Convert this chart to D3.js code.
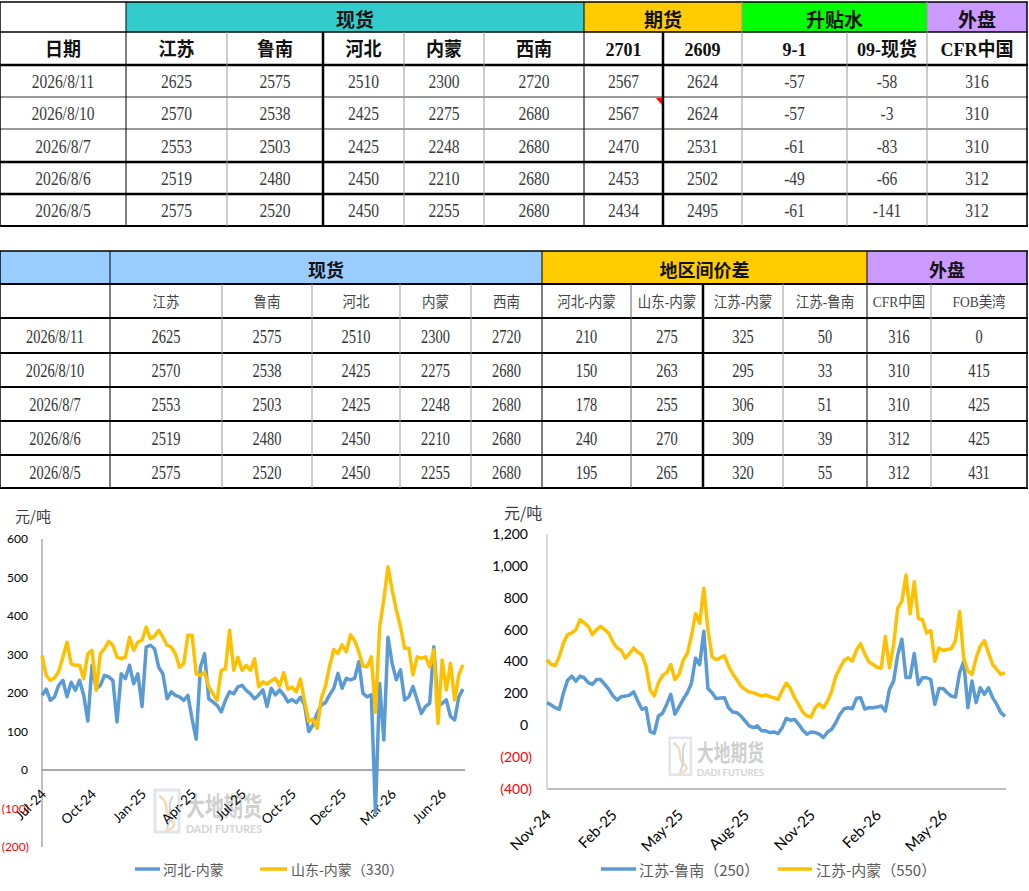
<!DOCTYPE html>
<html><head><meta charset="utf-8">
<script src="https://cdn.jsdelivr.net/npm/d3@7"></script>
<style>html,body{margin:0;padding:0;background:#fff;} svg{display:block;}</style>
</head><body>
<svg id="c" width="1029" height="891"></svg>
<script>
// ---------------- table data ----------------
const dates = ["2026/8/11","2026/8/10","2026/8/7","2026/8/6","2026/8/5"];
const spotJiangsu = [2625,2570,2553,2519,2575];
const spotLunan = [2575,2538,2503,2480,2520];
const spotHebei = [2510,2425,2425,2450,2450];
const spotNeimeng = [2300,2275,2248,2210,2255];
const spotXinan = [2720,2680,2680,2680,2680];
const fut2701 = [2567,2567,2470,2453,2434];
const fut2609 = [2624,2624,2531,2502,2495];
const basis91 = [-57,-57,-61,-49,-61];
const basis09Spot = [-58,-3,-83,-66,-141];
const cfrChina = [316,310,310,312,312];
const sprHebeiNeimeng = [210,150,178,240,195];
const sprShandongNeimeng = [275,263,255,270,265];
const sprJiangsuNeimeng = [325,295,306,309,320];
const sprJiangsuLunan = [50,33,51,39,55];
const fobUSGulf = [0,415,425,425,431];

const t1Groups = ["", "现货", "期货", "升贴水", "外盘"];
const t1Heads = ["日期","江苏","鲁南","河北","内蒙","西南","2701","2609","9-1","09-现货","CFR中国"];
const t2Groups = ["", "现货", "地区间价差", "外盘"];
const t2Heads = ["","江苏","鲁南","河北","内蒙","西南","河北-内蒙","山东-内蒙","江苏-内蒙","江苏-鲁南","CFR中国","FOB美湾"];

// ---------------- chart data ----------------
const leftSeriesNames = ["河北-内蒙","山东-内蒙（330）"];
const leftXLabels = ["Jul-24","Oct-24","Jan-25","Apr-25","Jul-25","Oct-25","Dec-25","Mar-26","Jun-26"];
const leftYTicks = [-200,-100,0,100,200,300,400,500,600];
const hebeiNeimeng = [194,210,181,190,220,233,190,228,207,233,
194,127,272,211,220,246,242,233,125,250,
237,272,224,250,165,319,324,315,267,250,
185,203,194,190,181,194,133,80,267,302,
185,177,168,151,181,203,198,216,220,207,
198,185,195,208,165,212,195,208,195,177,
183,175,189,169,100,117,147,169,175,195,
212,251,212,238,234,238,281,199,190,195,
-110,225,78,345,277,234,260,182,190,217,
182,147,165,173,320,165,173,182,139,130,
190,210];
const shandongNeimeng = [298,246,233,239,256,293,332,276,272,272,
237,302,311,207,302,315,334,324,293,289,
293,345,311,332,337,371,341,348,363,345,
324,319,302,267,276,350,350,250,246,254,
216,198,181,259,263,363,259,293,259,272,
259,289,216,229,223,232,238,218,253,210,
215,203,236,178,126,132,108,186,218,270,
313,303,325,307,351,336,307,270,268,294,
150,372,442,528,468,416,372,316,316,247,
294,290,294,268,312,121,286,208,277,182,
247,273];

const rightSeriesNames = ["江苏-鲁南（250）","江苏-内蒙（550）"];
const rightXLabels = ["Nov-24","Feb-25","May-25","Aug-25","Nov-25","Feb-26","May-26"];
const rightYTicks = [-400,-200,0,200,400,600,800,1000,1200];
const jiangsuLunan = [142,127,110,100,204,283,308,277,308,298,
267,256,287,287,256,225,183,158,179,183,
189,210,152,100,110,-40,-50,58,75,131,
194,69,115,162,204,262,420,380,590,230,
204,167,171,173,110,83,79,58,27,-4,
-15,-4,-35,-35,-46,-42,-52,-15,44,31,
37,6,-31,-56,-42,-46,-56,-77,-42,-25,
17,69,104,110,104,169,173,102,110,110,
114,121,89,225,277,440,540,300,300,450,
256,298,298,287,131,231,231,204,183,177,
330,400,110,277,142,235,194,235,173,131,
79,56];
const jiangsuNeimeng = [412,381,375,433,517,569,579,600,662,642,
621,569,600,621,600,575,521,485,469,421,
450,485,458,442,371,221,183,267,312,329,
381,287,319,408,450,560,700,640,860,600,
429,412,423,437,371,323,287,246,225,208,
204,194,183,190,179,173,162,218,264,231,
173,129,83,58,52,110,135,110,152,214,
308,360,406,423,402,471,512,448,398,381,
364,358,558,360,506,735,777,943,700,900,
669,662,579,594,402,485,469,475,481,531,
714,420,339,319,423,496,531,454,381,350,
319,330];

// ---------------- drawing ----------------
const svg = d3.select("#c");
const CJK = "'Noto Sans CJK SC', sans-serif";
const SERIF = "'Liberation Serif', 'Noto Sans CJK SC', serif";
const BLUE = "#5B9BD5", GOLD = "#FFC000";

function cellText(g, cx, cy, txt, o) {
  g.append("text")
    .attr("transform", `translate(${cx},${cy}) scale(${o.sx||1},1)`)
    .attr("text-anchor","middle").attr("dominant-baseline","central")
    .attr("font-family", o.ff).attr("font-size", o.fs)
    .attr("font-weight", o.fw||"normal").attr("fill", o.fill||"#000")
    .text(txt);
}
function hline(g, x1, x2, y, w, c) {
  g.append("line").attr("x1",x1).attr("x2",x2).attr("y1",y).attr("y2",y)
    .attr("stroke",c).attr("stroke-width",w);
}
function vline(g, x, y1, y2, w, c) {
  g.append("line").attr("x1",x).attr("x2",x).attr("y1",y1).attr("y2",y2)
    .attr("stroke",c).attr("stroke-width",w);
}

// ===== Table 1 =====
(function(){
  const g = svg.append("g");
  const cols = [0,126,227,323,404,484,584,663,742,847,927,1027];
  const rows = [2,32,65,97,129,162,194,226];
  const spans = [[0,1],[1,6],[6,8],[8,10],[10,11]];
  const fills = ["#FFFFFF","#33CCCC","#FFCC00","#00FF00","#CC99FF"];
  spans.forEach((s,k)=>{
    g.append("rect").attr("x",cols[s[0]]).attr("y",rows[0]).attr("width",cols[s[1]]-cols[s[0]])
      .attr("height",rows[1]-rows[0]).attr("fill",fills[k]);
    cellText(g,(cols[s[0]]+cols[s[1]])/2,(rows[0]+rows[1])/2+1,t1Groups[k],{ff:CJK,fs:19,fw:"bold",fill:"#111"});
  });
  t1Heads.forEach((h,k)=>{
    cellText(g,(cols[k]+cols[k+1])/2,(rows[1]+rows[2])/2+1,h,{ff:SERIF,fs:19,fw:"bold",fill:"#111",sx:0.95});
  });
  const body = dates.map((d,r)=>[d,spotJiangsu[r],spotLunan[r],spotHebei[r],spotNeimeng[r],spotXinan[r],
    fut2701[r],fut2609[r],basis91[r],basis09Spot[r],cfrChina[r]]);
  body.forEach((row,r)=>{
    row.forEach((v,k)=>{
      cellText(g,(cols[k]+cols[k+1])/2,(rows[r+2]+rows[r+3])/2+1,String(v),{ff:SERIF,fs:19,fill:"#3a3a3a",sx:0.82});
    });
  });
  const hw = [[1.5,"#000"],[1.5,"#000"],[2.5,"#000"],[1,"#333"],[1,"#333"],[2.5,"#000"],[2.5,"#000"],[2,"#000"]];
  rows.forEach((y,i)=>hline(g,0,1028,y,hw[i][0],hw[i][1]));
  const vw = [[1.5,"#000"],[1,"#000"],[1,"#999"],[2.5,"#000"],[1,"#999"],[1,"#999"],[1,"#000"],[2.5,"#000"],[1,"#999"],[1,"#999"],[1,"#999"],[1.5,"#000"]];
  const groupEdges = [0,1,6,8,10,11];
  cols.forEach((x,i)=>{
    const top = groupEdges.includes(i) ? rows[0] : rows[1];
    vline(g,x,top,rows[7],vw[i][0],vw[i][1]);
  });
  g.append("path").attr("d","M656,98 L662,98 L662,105 Z").attr("fill","#FF0000");
})();

// ===== Table 2 =====
(function(){
  const g = svg.append("g");
  const cols = [0,110,222,312,400,471,542,631,703,783,867,931,1027];
  const rows = [251,284,318,353,387,421,455,488];
  const spans = [[0,1],[1,6],[6,10],[10,12]];
  const fills = ["#99CCFF","#99CCFF","#FFCC00","#CC99FF"];
  spans.forEach((s,k)=>{
    g.append("rect").attr("x",cols[s[0]]).attr("y",rows[0]).attr("width",cols[s[1]]-cols[s[0]])
      .attr("height",rows[1]-rows[0]).attr("fill",fills[k]);
    cellText(g,(cols[s[0]]+cols[s[1]])/2,(rows[0]+rows[1])/2+1,t2Groups[k],{ff:CJK,fs:18,fw:"bold",fill:"#111"});
  });
  t2Heads.forEach((h,k)=>{
    cellText(g,(cols[k]+cols[k+1])/2,(rows[1]+rows[2])/2+1,h,{ff:SERIF,fs:15,fill:"#444",sx:0.9});
  });
  const body = dates.map((d,r)=>[d,spotJiangsu[r],spotLunan[r],spotHebei[r],spotNeimeng[r],spotXinan[r],
    sprHebeiNeimeng[r],sprShandongNeimeng[r],sprJiangsuNeimeng[r],sprJiangsuLunan[r],cfrChina[r],fobUSGulf[r]]);
  body.forEach((row,r)=>{
    row.forEach((v,k)=>{
      cellText(g,(cols[k]+cols[k+1])/2,(rows[r+2]+rows[r+3])/2+1,String(v),{ff:SERIF,fs:19,fill:"#333",sx:0.76});
    });
  });
  rows.forEach((y,i)=>hline(g,0,1028,y,i===0?1.5:2,"#000"));
  const vw = [[1.5,"#000"],[1,"#000"],[1,"#999"],[1,"#999"],[1,"#999"],[1,"#999"],[1,"#000"],[1,"#666"],[2.5,"#000"],[1,"#999"],[1,"#000"],[1,"#999"],[1.5,"#000"]];
  const groupEdges = [0,1,6,10,12];
  cols.forEach((x,i)=>{
    const top = groupEdges.includes(i) ? rows[0] : rows[1];
    vline(g,x,top,rows[7],vw[i][0],vw[i][1]);
  });
})();

// ===== watermark =====
function watermark(x, y, s) {
  const g = svg.append("g").attr("transform",`translate(${x},${y}) scale(${s})`).attr("opacity",0.55);
  g.append("path").attr("d","M2,2 L26,2 L26,44 L2,44 Z").attr("fill","none").attr("stroke","#c9d3df").attr("stroke-width",3);
  g.append("path").attr("d","M6,8 C18,14 10,26 18,32 C24,36 20,42 12,42").attr("fill","none").attr("stroke","#e2c68f").attr("stroke-width",3);
  g.append("path").attr("d","M20,8 C12,18 22,26 14,40").attr("fill","none").attr("stroke","#9fb3c8").attr("stroke-width",2);
  g.append("text").attr("x",33).attr("y",28).attr("font-family",CJK).attr("font-weight","bold")
    .attr("font-size",26).attr("fill","#a8a8a8").attr("textLength",76).attr("lengthAdjust","spacingAndGlyphs").text("大地期货");
  g.append("text").attr("x",33).attr("y",45).attr("font-family","Lato, sans-serif").attr("font-weight","bold")
    .attr("font-size",11.5).attr("fill","#b0b0b0").attr("textLength",76).attr("lengthAdjust","spacingAndGlyphs").text("DADI FUTURES");
}
watermark(153, 788, 1.0);
watermark(668, 736, 0.88);

// ===== Left chart =====
(function(){
  const g = svg.append("g");
  const xL = d3.scalePoint().domain(d3.range(hebeiNeimeng.length)).range([42, 463]);
  const yL = d3.scaleLinear().domain([-200, 600]).range([847, 539]);
  vline(g, 42, yL(600), yL(-200), 2, "#BFBFBF");
  hline(g, 42, 465, yL(0), 1.5, "#8C8C8C");
  const ax = g.append("g").attr("transform","translate(42,0)")
    .call(d3.axisLeft(yL).tickValues(leftYTicks).tickSize(0).tickPadding(14)
      .tickFormat(d => d < 0 ? `(${-d})` : d));
  ax.select(".domain").remove();
  ax.selectAll("text").attr("font-family","Lato, sans-serif").attr("font-size",12)
    .attr("fill", d => d < 0 ? "#FF0000" : "#000")
    .attr("dx", d => d < 0 ? 1 : 0);
  g.append("text").attr("x",15).attr("y",522).attr("font-family",CJK).attr("font-size",15).attr("fill","#404040").text("元/吨");
  leftXLabels.forEach((lab,k)=>{
    g.append("text").attr("transform",`translate(${xL(k*12)+5},${795}) rotate(-45)`)
      .attr("text-anchor","end").attr("font-family","Lato, sans-serif").attr("font-size",13.5).attr("fill","#000").text(lab);
  });
  const line = d3.line().x((d,i)=>xL(i)).y(d=>yL(d));
  g.append("path").datum(hebeiNeimeng).attr("d",line).attr("fill","none").attr("stroke",BLUE).attr("stroke-width",3.5).attr("stroke-linejoin","round");
  g.append("path").datum(shandongNeimeng).attr("d",line).attr("fill","none").attr("stroke",GOLD).attr("stroke-width",3.5).attr("stroke-linejoin","round");
  hline(g,135,160,869,3.5,BLUE);
  g.append("text").attr("x",163).attr("y",869).attr("dominant-baseline","central").attr("font-family",CJK).attr("font-size",14).attr("fill","#595959").text(leftSeriesNames[0]);
  hline(g,260,287,869,3.5,GOLD);
  g.append("text").attr("x",291).attr("y",869).attr("dominant-baseline","central").attr("font-family",CJK).attr("font-size",14).attr("fill","#595959").text(leftSeriesNames[1]);
})();

// ===== Right chart =====
(function(){
  const g = svg.append("g");
  const xR = d3.scalePoint().domain(d3.range(jiangsuLunan.length)).range([547, 1005]);
  const yR = d3.scaleLinear().domain([-400, 1200]).range([789, 534]);
  vline(g, 547, yR(1200), yR(-400), 2, "#D9D9D9");
  hline(g, 547, 1006, yR(-400), 2, "#BFBFBF");
  const fmt = d3.format(",");
  const ax = g.append("g").attr("transform","translate(547,0)")
    .call(d3.axisLeft(yR).tickValues(rightYTicks).tickSize(0).tickPadding(19)
      .tickFormat(d => d < 0 ? `(${fmt(-d)})` : fmt(d)));
  ax.select(".domain").remove();
  ax.selectAll("text").attr("font-family","Lato, sans-serif").attr("font-size",14)
    .attr("fill", d => d < 0 ? "#FF0000" : "#000")
    .attr("dx", d => d < 0 ? 4 : 0);
  g.append("text").attr("x",504).attr("y",519).attr("font-family",CJK).attr("font-size",16).attr("fill","#404040").text("元/吨");
  rightXLabels.forEach((lab,k)=>{
    g.append("text").attr("transform",`translate(${xR(k*16)+5},${816}) rotate(-45)`)
      .attr("text-anchor","end").attr("font-family","Lato, sans-serif").attr("font-size",15).attr("fill","#000").text(lab);
  });
  const line = d3.line().x((d,i)=>xR(i)).y(d=>yR(d));
  g.append("path").datum(jiangsuLunan).attr("d",line).attr("fill","none").attr("stroke",BLUE).attr("stroke-width",3.5).attr("stroke-linejoin","round");
  g.append("path").datum(jiangsuNeimeng).attr("d",line).attr("fill","none").attr("stroke",GOLD).attr("stroke-width",3.5).attr("stroke-linejoin","round");
  hline(g,601,636,869,3.5,BLUE);
  g.append("text").attr("x",639).attr("y",869).attr("dominant-baseline","central").attr("font-family",CJK).attr("font-size",15).attr("fill","#595959").text(rightSeriesNames[0]);
  hline(g,778,812,869,3.5,GOLD);
  g.append("text").attr("x",816).attr("y",869).attr("dominant-baseline","central").attr("font-family",CJK).attr("font-size",15).attr("fill","#595959").text(rightSeriesNames[1]);
})();
</script>
</body></html>
